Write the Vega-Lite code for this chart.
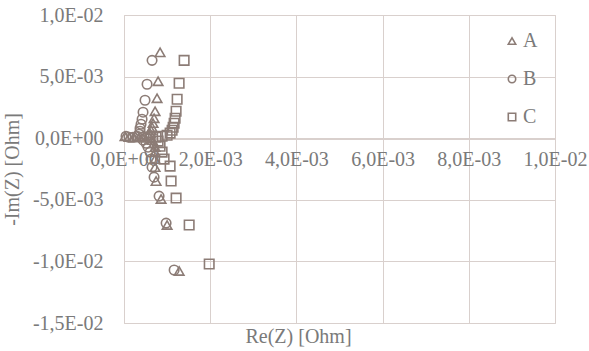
{
  "$schema": "https://vega.github.io/schema/vega-lite/v6.json",
  "autosize": "none",
  "width": 431,
  "height": 308,
  "padding": {"left": 124, "top": 15, "right": 34, "bottom": 28},
  "background": "white",
  "config": {
    "view": {"stroke": "#d9d0cd", "strokeWidth": 1},
    "font": "'Liberation Serif', 'Times New Roman', serif",
    "axis": {
      "labelFont": "'Liberation Serif', 'Times New Roman', serif",
      "titleFont": "'Liberation Serif', 'Times New Roman', serif",
      "labelFontSize": 20,
      "titleFontSize": 20,
      "labelColor": "#7a7a7a",
      "titleColor": "#7a7a7a",
      "titleFontWeight": "normal",
      "gridColor": "#d9d0cd",
      "domainColor": "#d9d0cd",
      "ticks": false,
      "labelOverlap": false,
      "labelFlush": false,
      "labelBound": false
    },
    "legend": {
      "labelFont": "'Liberation Serif', 'Times New Roman', serif",
      "labelFontSize": 20,
      "labelColor": "#7a7a7a"
    }
  },
  "data": {
    "values": [
      {"s": "A", "re": 0.000837, "im": 0.00697},
      {"s": "A", "re": 0.000791, "im": 0.00462},
      {"s": "A", "re": 0.000767, "im": 0.00324},
      {"s": "A", "re": 0.000721, "im": 0.00219},
      {"s": "A", "re": 0.000698, "im": 0.00162},
      {"s": "A", "re": 0.000674, "im": 0.00122},
      {"s": "A", "re": 0.000651, "im": 0.00089},
      {"s": "A", "re": 0.000628, "im": 0.00065},
      {"s": "A", "re": 0.000605, "im": 0.00041},
      {"s": "A", "re": 0.000558, "im": 0.00024},
      {"s": "A", "re": 0.000465, "im": 0.00016},
      {"s": "A", "re": 0.000349, "im": 0.00008},
      {"s": "A", "re": 0.000233, "im": 0.00004},
      {"s": "A", "re": 0.000116, "im": 0.00008},
      {"s": "A", "re": 0.000023, "im": 0.00016},
      {"s": "A", "re": 0.000651, "im": -0.00016},
      {"s": "A", "re": 0.000698, "im": -0.00041},
      {"s": "A", "re": 0.000721, "im": -0.00073},
      {"s": "A", "re": 0.000721, "im": -0.00113},
      {"s": "A", "re": 0.000721, "im": -0.0017},
      {"s": "A", "re": 0.000721, "im": -0.00235},
      {"s": "A", "re": 0.000744, "im": -0.00348},
      {"s": "A", "re": 0.00086, "im": -0.00494},
      {"s": "A", "re": 0.001, "im": -0.00705},
      {"s": "A", "re": 0.00128, "im": -0.01078},
      {"s": "B", "re": 0.000651, "im": 0.00632},
      {"s": "B", "re": 0.000535, "im": 0.00438},
      {"s": "B", "re": 0.000488, "im": 0.00308},
      {"s": "B", "re": 0.000442, "im": 0.00211},
      {"s": "B", "re": 0.000419, "im": 0.00154},
      {"s": "B", "re": 0.000395, "im": 0.00113},
      {"s": "B", "re": 0.000372, "im": 0.00081},
      {"s": "B", "re": 0.000372, "im": 0.00057},
      {"s": "B", "re": 0.000349, "im": 0.00032},
      {"s": "B", "re": 0.000302, "im": 0.00016},
      {"s": "B", "re": 0.000209, "im": 0.00008},
      {"s": "B", "re": 0.000116, "im": 0.00008},
      {"s": "B", "re": 0.000047, "im": 0.00016},
      {"s": "B", "re": 0.000442, "im": -0.00016},
      {"s": "B", "re": 0.000512, "im": -0.00041},
      {"s": "B", "re": 0.000558, "im": -0.00073},
      {"s": "B", "re": 0.000605, "im": -0.00113},
      {"s": "B", "re": 0.000628, "im": -0.0017},
      {"s": "B", "re": 0.000651, "im": -0.00235},
      {"s": "B", "re": 0.000698, "im": -0.00316},
      {"s": "B", "re": 0.000814, "im": -0.0047},
      {"s": "B", "re": 0.000977, "im": -0.00689},
      {"s": "B", "re": 0.001163, "im": -0.0107},
      {"s": "C", "re": 0.001395, "im": 0.00632},
      {"s": "C", "re": 0.001279, "im": 0.00446},
      {"s": "C", "re": 0.001233, "im": 0.00316},
      {"s": "C", "re": 0.001209, "im": 0.00219},
      {"s": "C", "re": 0.001186, "im": 0.00162},
      {"s": "C", "re": 0.001163, "im": 0.00122},
      {"s": "C", "re": 0.00114, "im": 0.00089},
      {"s": "C", "re": 0.001116, "im": 0.00065},
      {"s": "C", "re": 0.00107, "im": 0.00041},
      {"s": "C", "re": 0.001, "im": 0.00024},
      {"s": "C", "re": 0.000884, "im": 0.00016},
      {"s": "C", "re": 0.000744, "im": 0.00008},
      {"s": "C", "re": 0.000605, "im": 0.00008},
      {"s": "C", "re": 0.000465, "im": 0.00008},
      {"s": "C", "re": 0.000791, "im": -0.00024},
      {"s": "C", "re": 0.000837, "im": -0.00065},
      {"s": "C", "re": 0.000884, "im": -0.00113},
      {"s": "C", "re": 0.00093, "im": -0.0017},
      {"s": "C", "re": 0.00107, "im": -0.00227},
      {"s": "C", "re": 0.001093, "im": -0.00348},
      {"s": "C", "re": 0.001209, "im": -0.00486},
      {"s": "C", "re": 0.001512, "im": -0.00705},
      {"s": "C", "re": 0.001977, "im": -0.01021}
    ]
  },
  "mark": {"type": "point", "filled": false, "strokeWidth": 1.6, "size": 90, "opacity": 1},
  "encoding": {
    "x": {
      "field": "re", "type": "quantitative",
      "scale": {"domain": [0, 0.01], "nice": false, "zero": false},
      "axis": {
        "title": "Re(Z) [Ohm]",
        "values": [0, 0.002, 0.004, 0.006, 0.008, 0.01],
        "offset": -184,
        "labelPadding": 10,
        "labelExpr": "replace(replace(replace(replace(format(datum.value, '.1e'), '.', ','), 'e-', 'E-0'), 'e+', 'E+0'), '\u2212', '-')",
        "titleX": 174,
        "titleY": 187
      }
    },
    "y": {
      "field": "im", "type": "quantitative",
      "scale": {"domain": [-0.015, 0.01], "nice": false, "zero": false},
      "axis": {
        "title": "-Im(Z) [Ohm]",
        "values": [-0.015, -0.01, -0.005, 0, 0.005, 0.01],
        "labelPadding": 21,
        "labelExpr": "replace(replace(replace(replace(format(datum.value, '.1e'), '.', ','), 'e-', 'E-0'), 'e+', 'E+0'), '\u2212', '-')",
        "domain": false,
        "titleX": -102,
        "titleY": 154
      }
    },
    "shape": {
      "field": "s", "type": "nominal",
      "scale": {"domain": ["A", "B", "C"], "range": ["triangle-up", "circle", "square"]},
      "legend": {
        "title": null,
        "orient": "none",
        "legendX": 378,
        "legendY": 16,
        "symbolSize": 55,
        "symbolStrokeWidth": 1.6,
        "symbolStrokeColor": "#8c7c76",
        "symbolFillColor": "transparent",
        "rowPadding": 18,
        "labelOffset": 1
      }
    },
    "color": {"value": "#8c7c76"}
  }
}
